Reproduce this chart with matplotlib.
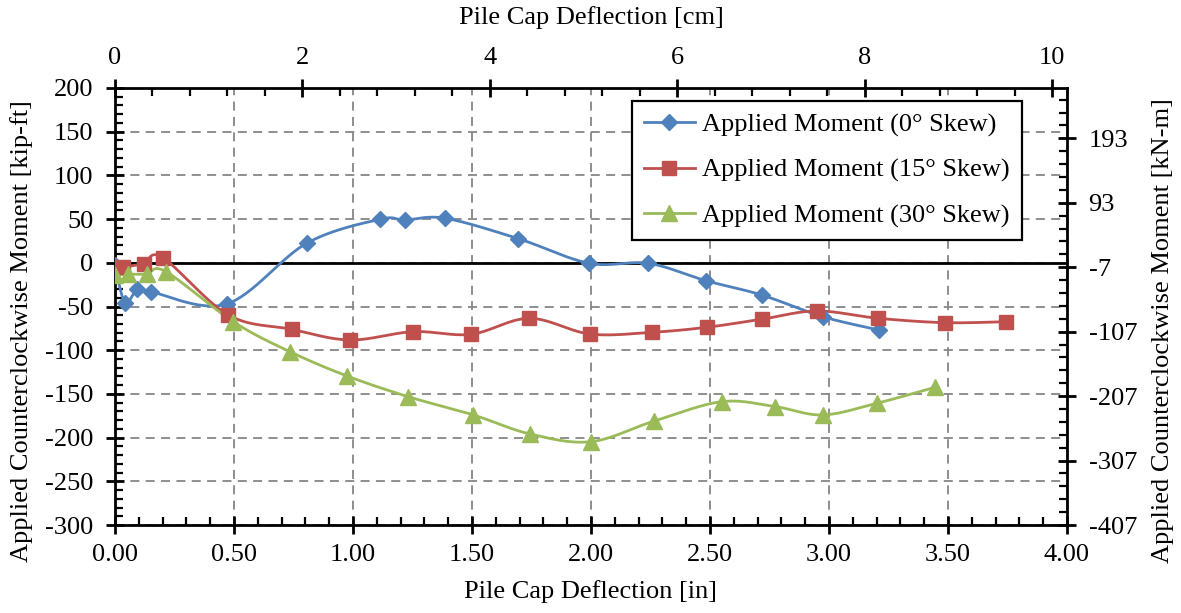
import numpy as np
import matplotlib
matplotlib.use("Agg")
import matplotlib.pyplot as plt
from matplotlib.ticker import MultipleLocator, FixedLocator

plt.rcParams['font.family'] = ['Liberation Serif', 'DejaVu Serif']
plt.rcParams['axes.unicode_minus'] = False

# ---------------- data ----------------
x0 = [0.0, 0.042, 0.094, 0.150, 0.469, 0.805, 1.113, 1.218, 1.387, 1.695, 1.993, 2.241, 2.483, 2.717, 2.973, 3.210]
y0 = [-3, -45.6, -30.3, -33.1, -47.1, 22.3, 49.8, 49.0, 51.0, 27.6, -0.6, -0.6, -20.5, -36.8, -61.6, -76.9]

x15 = [0.035, 0.120, 0.200, 0.476, 0.742, 0.987, 1.253, 1.496, 1.741, 1.996, 2.258, 2.486, 2.717, 2.948, 3.207, 3.487, 3.744]
y15 = [-4.8, -1.0, 6.0, -59.7, -76.1, -88.3, -78.8, -81.8, -63.5, -81.5, -79.5, -73.8, -64.6, -55.1, -63.5, -68.5, -67.4]

x30 = [0.0, 0.053, 0.133, 0.213, 0.497, 0.735, 0.975, 1.232, 1.506, 1.744, 1.999, 2.266, 2.549, 2.773, 2.973, 3.200, 3.445]
y30 = [-14, -13, -13, -10, -67.4, -101.7, -129.5, -153.2, -174.1, -195.9, -204.7, -181.0, -158.9, -164.5, -174.1, -160.8, -142.5]

labels = ['Applied Moment (0° Skew)', 'Applied Moment (15° Skew)', 'Applied Moment (30° Skew)']
colors = ['#4F81BD', '#C0504D', '#9BBB59']

kn_tick_labels = [-407, -307, -207, -107, -7, 93, 193]
cm_tick_labels = [0, 2, 4, 6, 8, 10]

IN_TO_CM = 2.54
KIPFT_TO_KNM = 1.35582


def smooth(xs, ys, n=30):
    """Excel-like smoothed line (Catmull-Rom Bezier)."""
    P = np.column_stack([xs, ys]).astype(float)
    m = len(P)
    out = []
    t = np.linspace(0, 1, n)
    for i in range(m - 1):
        p0 = P[i - 1] if i > 0 else P[i]
        p1 = P[i]
        p2 = P[i + 1]
        p3 = P[i + 2] if i + 2 < m else P[i + 1]
        c1 = p1 + (p2 - p0) / 6.0
        c2 = p2 - (p3 - p1) / 6.0
        seg = ((1 - t)[:, None] ** 3 * p1 + 3 * ((1 - t) ** 2 * t)[:, None] * c1
               + 3 * ((1 - t) * t ** 2)[:, None] * c2 + (t ** 3)[:, None] * p2)
        out.append(seg if i == 0 else seg[1:])
    a = np.vstack(out)
    return a[:, 0], a[:, 1]


fig = plt.figure(figsize=(11.81, 6.13), dpi=100)
ax = fig.add_axes([115 / 1181, 1 - 525 / 613, 952 / 1181, 437 / 613])

FS = 19

ax.set_xlim(0, 4)
ax.set_ylim(-300, 200)

ax.xaxis.set_major_locator(MultipleLocator(0.5))
ax.xaxis.set_minor_locator(MultipleLocator(0.1))
ax.yaxis.set_major_locator(MultipleLocator(50))
ax.yaxis.set_minor_locator(MultipleLocator(10))
ax.grid(True, which='major', color='#868686', linestyle=(0, (5, 3.5)), linewidth=1.3)
ax.set_axisbelow(True)
ax.xaxis.set_major_formatter(matplotlib.ticker.FormatStrFormatter('%.2f'))

ax.axhline(0, color='black', linewidth=2.0, zorder=2)

series = [(x0, y0, 'D', 8.5), (x15, y15, 's', 10), (x30, y30, '^', 11.5)]
handles = []
for (xs, ys, mk, ms), col, lab in zip(series, colors, labels):
    sx, sy = smooth(xs, ys)
    ax.plot(sx, sy, color=col, linewidth=2.0, zorder=3)
    ax.plot(xs, ys, linestyle='none', marker=mk, markersize=ms, color=col,
            markeredgecolor=col, zorder=4)
    h, = ax.plot([], [], color=col, linewidth=2.0, marker=mk, markersize=ms,
                 markeredgecolor=col, label=lab)
    handles.append(h)

for sp in ax.spines.values():
    sp.set_linewidth(2.0)

ax.tick_params(which='major', direction='inout', length=13, width=2.0, labelsize=FS,
               pad=7, colors='black')
ax.tick_params(which='minor', direction='in', length=6, width=1.6)
ax.tick_params(axis='y', which='major', pad=9)

ax.set_xlabel('Pile Cap Deflection [in]', fontsize=FS)
ax.set_ylabel('Applied Counterclockwise Moment [kip-ft]', fontsize=FS)
ax.xaxis.set_label_coords(0.5, (525 - 592) / 437)
ax.xaxis.label.set_va('center')
ax.yaxis.set_label_coords((22 - 115) / 952, (525 - 331) / 437)
ax.yaxis.label.set_va('center')

# top axis in cm
axt = ax.twiny()
axt.set_xlim(0, 4 * IN_TO_CM)
axt.xaxis.set_major_locator(FixedLocator(cm_tick_labels))
axt.xaxis.set_minor_locator(MultipleLocator(0.4))
axt.tick_params(which='major', direction='inout', length=13, width=2.0, labelsize=FS, pad=7)
axt.tick_params(which='minor', direction='in', length=6, width=1.6)
axt.set_xlabel('Pile Cap Deflection [cm]', fontsize=FS)
axt.xaxis.set_label_coords(0.5, (525 - 18) / 437)
axt.xaxis.label.set_va('center')
for sp in axt.spines.values():
    sp.set_visible(False)

# right axis in kN-m
axr = ax.twinx()
axr.set_ylim(-407, 200 * KIPFT_TO_KNM)
axr.yaxis.set_major_locator(FixedLocator(kn_tick_labels))
axr.yaxis.set_minor_locator(MultipleLocator(20, offset=-407 % 20))
axr.tick_params(which='major', direction='inout', length=13, width=2.0, labelsize=FS, pad=9)
axr.tick_params(which='minor', direction='in', length=6, width=1.6)
axr.set_ylabel('Applied Counterclockwise Moment [kN-m]', fontsize=FS)
axr.yaxis.set_label_coords((1163 - 115) / 952, (525 - 331) / 437)
axr.yaxis.label.set_va('center')
for sp in axr.spines.values():
    sp.set_visible(False)

leg = ax.legend(handles=handles, loc='upper right', bbox_to_anchor=((1022 - 115) / 952, (525 - 101) / 437),
                borderaxespad=0, fontsize=FS, frameon=True, fancybox=False, edgecolor='black',
                framealpha=1, handlelength=1.95, handletextpad=0.28, labelspacing=0.82,
                borderpad=0.45)
leg.get_frame().set_linewidth(1.6)
leg.set_zorder(10)

fig.savefig('out.png', dpi=100)
